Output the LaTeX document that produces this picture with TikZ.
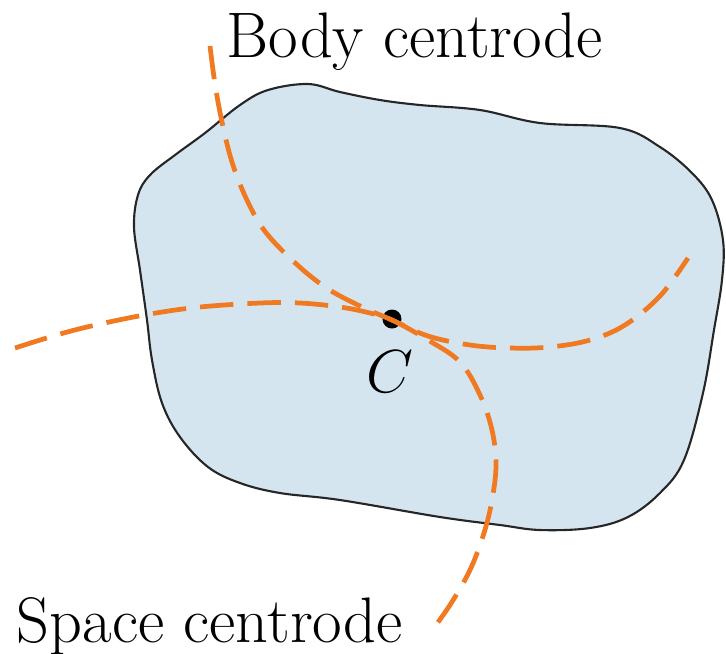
\documentclass[tikz,border=0pt]{standalone}
\usepackage{tikz}
\usetikzlibrary{positioning,calc}
\usepackage{xcolor}
\definecolor{bodyblue}{RGB}{213,229,239}
\definecolor{centorange}{RGB}{240,122,34}

\begin{document}
\begin{tikzpicture}[
    x=0.01cm, y=-0.01cm,
    every node/.style={font=\fontsize{18.3}{22}\selectfont},
    rigid/.style={draw=black!85, fill=bodyblue, line width=0.6pt},
    centrode/.style={draw=centorange, line width=1.35pt, dash pattern=on 9.5pt off 4pt},
    pivot/.style={circle, fill=black, inner sep=0pt, minimum size=0.19cm},
    tag/.style={inner sep=0pt, anchor=base west},
]
\useasboundingbox (0,0) rectangle (726,653);

% Rigid body
\draw[rigid] plot[smooth cycle, tension=0.6] coordinates {
    (268,90) (308,84) (340,92) (380,100) (420,105) (480,110) (540,123)
    (620,128) (660,147) (692,173) (712,200) (723,240) (722,280)
    (714,330) (703,393) (684,460) (660,493) (628,517) (590,528)
    (540,530) (500,525) (440,517) (340,500) (280,493) (240,483)
    (208,467) (180,437) (162,403) (152,360) (147,320) (140,270)
    (134,227) (138,195) (150,175) (175,155) (205,133) (240,105)};

% Instantaneous centre
\node[pivot] (ic) at (392,319) {};
\node (iclabel) at (390,372) {$C$};

% Body centrode
\draw[centrode] plot[smooth, tension=0.6] coordinates {
    (210,46) (215,84) (222,122) (232,162) (246,198) (264,230) (292,260)
    (325,287) (360,306) (392,320) (428,336) (470,345) (510,348)
    (550,347) (590,340) (625,325) (660,296) (688,258)};

% Space centrode
\draw[centrode] plot[smooth, tension=0.6] coordinates {
    (15,348) (60,334) (100,324) (150,314) (200,307) (260,303) (300,303)
    (340,307) (370,313) (392,320) (428,340) (460,362) (480,395)
    (492,430) (496,465) (492,500) (484,533) (470,570) (450,605) (430,633)};

% Labels
\node[tag] (bodytext) at (226,57) {Body centrode};
\node[tag] (spacetext) at (16,642) {Space centrode};

\end{tikzpicture}
\end{document}
